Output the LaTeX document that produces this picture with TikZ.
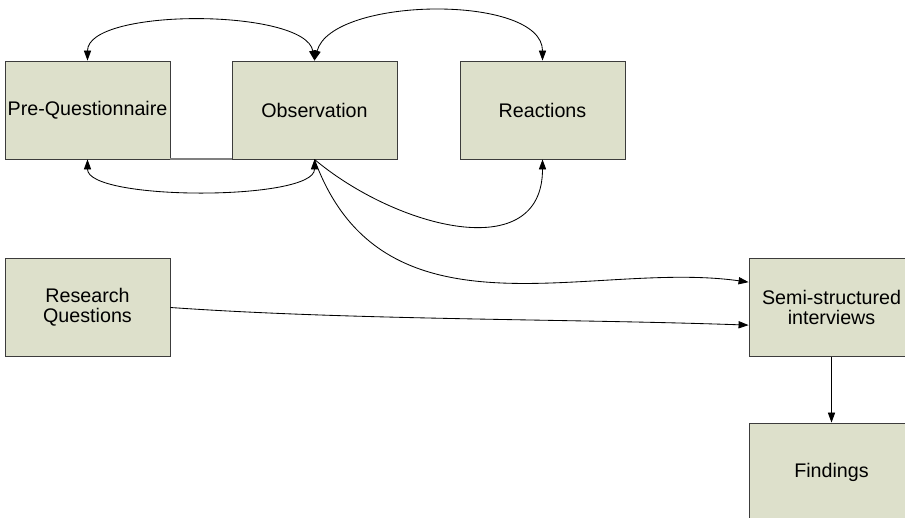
\documentclass[tikz,border=0pt]{standalone}
\usepackage{fontspec}
\setmainfont{Liberation Sans}
\usetikzlibrary{arrows.meta,positioning}

\definecolor{stagefill}{HTML}{DDE0CB}
\definecolor{stageline}{HTML}{3C3C3C}

\begin{document}
\begin{tikzpicture}[x=0.025cm, y=-0.025cm,
    every node/.style={font=\fontsize{14}{14.5}\selectfont},
    stage/.style={draw=stageline, line width=0.6pt, fill=stagefill, minimum width=4.125cm, minimum height=2.45cm, align=center, inner sep=0pt},
    link/.style={line width=0.6pt, -{Triangle[length=2.5mm,width=1.8mm]}},
    dlink/.style={line width=0.6pt, {Triangle[length=2.5mm,width=1.8mm]}-{Triangle[length=2.5mm,width=1.8mm]}}]
  % Frame
  \clip (0,0) rectangle (905,518);

  % Top row
  \node[stage] (preq) at (87.5, 110) {Pre-Questionnaire};
  \node[stage] (obs) at (314.5, 110) {Observation};
  \node[stage] (react) at (542.5, 110) {Reactions};
  \draw[gray, line width=1.5pt] (preq.south east) -- (obs.south west);

  % Left and right column
  \node[stage] (rq) at (87.5, 307.5) {Research\\Questions};
  \node[stage] (semi) at (831.5, 307.5) {Semi-structured\\interviews};
  \node[stage] (find) at (831.5, 472) {Findings};

  % Loops above the top row
  \draw[dlink] (preq.north) to[out=90, in=100, looseness=0.6] (obs.north);
  \draw[dlink] (obs.north) to[out=75, in=90, looseness=0.75] (react.north);

  % Loops below the top row
  \draw[dlink] (preq.south) to[out=-90, in=-90, looseness=0.47] (obs.south);
  \draw[link] (obs.south) to[out=-40, in=-90, looseness=1.2] (react.south);

  % Into the interviews
  \draw[link] (obs.south) to[out=-70, in=172, out distance=5cm, in distance=4cm] (semi.163);
  \draw[link] (rq.east) to[out=-4, in=178, looseness=0.8] (semi.192);
  \draw[link] (semi.south) -- (find.north);
\end{tikzpicture}
\end{document}
